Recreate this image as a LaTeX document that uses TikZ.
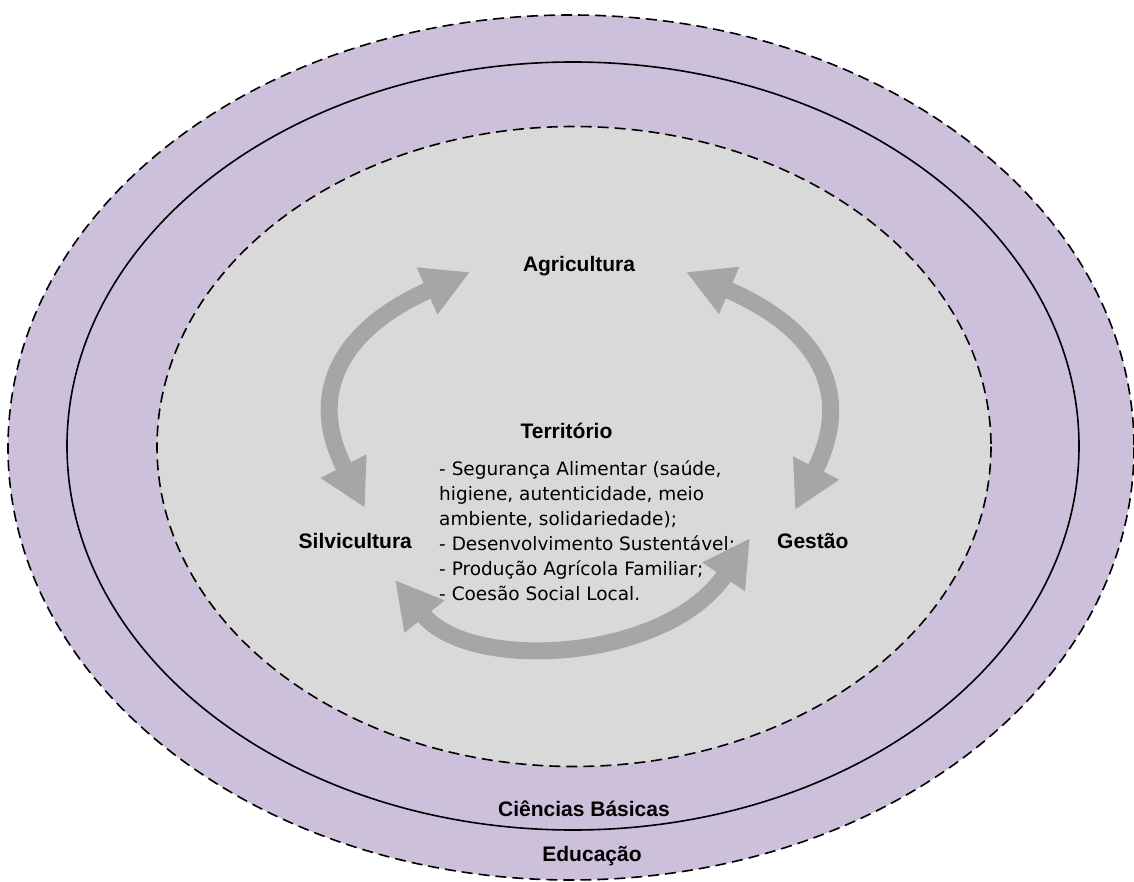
\documentclass[tikz,border=0pt]{standalone}
\usepackage{fontspec}
\setmainfont{Liberation Sans}
\newfontfamily\dejavu{DejaVu Sans}
\usetikzlibrary{arrows.meta}
\definecolor{lav}{RGB}{204,192,218}
\definecolor{core}{RGB}{217,217,217}
\definecolor{arr}{RGB}{166,166,166}
\begin{document}
\begin{tikzpicture}[x=1pt,y=-1pt,
  ring/.style={draw=black, line width=1.6pt, dash pattern=on 11pt off 6pt},
  lbl/.style={font=\fontsize{21}{25}\selectfont\bfseries, inner sep=0pt},
  body/.style={font=\dejavu\fontsize{18.5}{25}\selectfont, align=left, inner sep=0pt},
  cyc/.style={draw=arr, line width=17pt, {Triangle[width=48pt,length=47pt]}-{Triangle[width=48pt,length=47pt]}}
]
\useasboundingbox (0,0) rectangle (1134,882);
\begin{scope}
\clip (0,0) rectangle (1134,882);
\filldraw[fill=lav, ring] (571,447.5) ellipse [x radius=563, y radius=432.5];
\end{scope}
\draw[line width=1.6pt] (573,446) ellipse [x radius=506, y radius=384];
\filldraw[fill=core, ring] (574,446.5) ellipse [x radius=417, y radius=320];

\node[lbl, anchor=base] (agr) at (579,272) {Agricultura};
\node[lbl, anchor=base] (ter) at (566.5,438) {Território};
\node[lbl, anchor=base west] (sil) at (298.5,548) {Silvicultura};
\node[lbl, anchor=base west] (ges) at (777,548) {Gestão};
\node[lbl, anchor=base] (cb) at (584,816) {Ciências Básicas};
\node[lbl, anchor=base] (edu) at (592,861.7) {Educação};
\node[body, anchor=base west] (txt) at (439,600) {- Segurança Alimentar (saúde,\\higiene, autenticidade, meio\\ambiente, solidariedade);\\- Desenvolvimento Sustentável;\\- Produção Agrícola Familiar;\\- Coesão Social Local.};

\coordinate (l1) at (365,508);
\coordinate (l2) at (470,272);
\coordinate (r1) at (795,510);
\coordinate (r2) at (686,272);
\coordinate (b1) at (395,580);
\coordinate (b2) at (750,538);
\draw[cyc] (l1) .. controls (305.7,392.3) and (341.9,328.6) .. (l2);
\draw[cyc] (r1) .. controls (854.3,392.3) and (818.1,328.6) .. (r2);
\draw[cyc] (b1) .. controls (470,673) and (666,662) .. (b2);
\end{tikzpicture}
\end{document}
